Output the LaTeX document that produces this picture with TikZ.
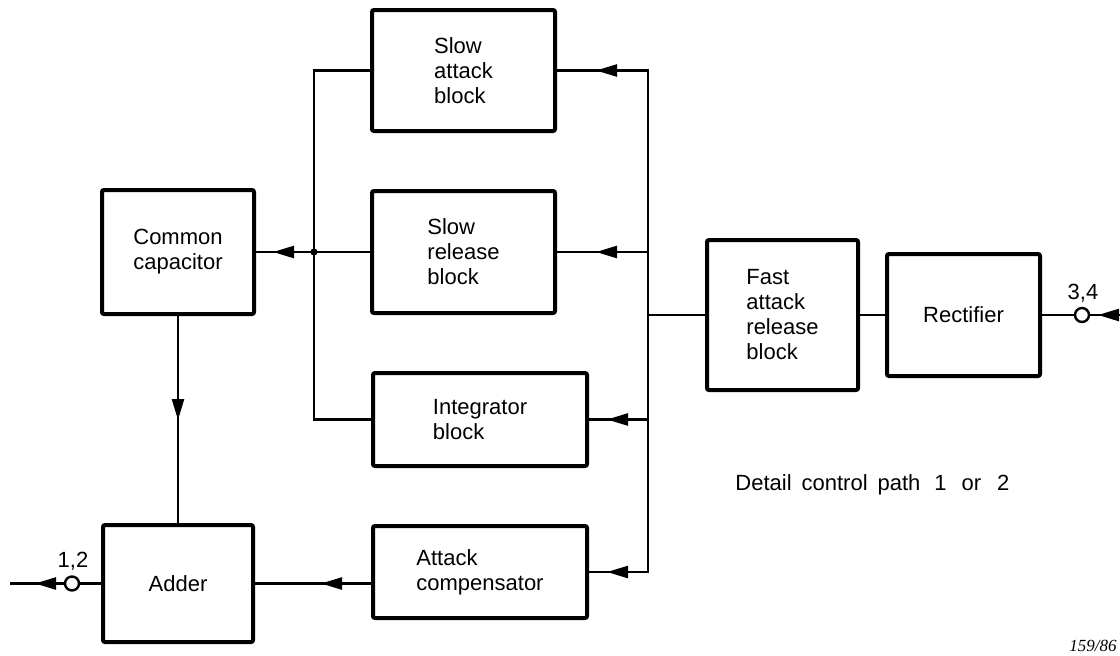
\documentclass[tikz,border=0pt]{standalone}
\usepackage{fontspec}
\setmainfont{Liberation Sans}
\newfontfamily\serifit{Liberation Serif}
\usetikzlibrary{arrows.meta,calc}
\tikzset{
  blk/.style={draw, line width=2pt, rounded corners=1pt, align=left, inner sep=0pt,
    font=\fontsize{11}{12.5}\selectfont},
  wire/.style={line width=1.2pt},
  arr/.style={line width=1.2pt, -{Triangle[length=10.5pt,width=6pt]}},
  term/.style={circle, draw, fill=white, line width=1.2pt, minimum size=7pt, inner sep=0pt},
  lbl/.style={font=\fontsize{11}{12.5}\selectfont, inner sep=0pt},
}
\begin{document}
\begin{tikzpicture}[x=0.5pt, y=-0.5pt]
\useasboundingbox (0,0) rectangle (1120,655);
% blocks
\node[blk, minimum width=91.5pt, minimum height=60.5pt] (sa) at (463.5,70.5) {Slow\\attack\\block};
\node[blk, minimum width=91.5pt, minimum height=61pt] (sr) at (463.5,252) {Slow\\release\\block};
\node[blk, minimum width=107pt, minimum height=46.5pt] (ib) at (480,419.5) {Integrator\\block};
\node[blk, minimum width=107pt, minimum height=46pt] (ac) at (480,572) {Attack\\compensator};
\node[blk, minimum width=76pt, minimum height=62pt, align=center] (cc) at (178,252) {Common\\capacitor};
\node[blk, minimum width=75pt, minimum height=58.5pt] (ad) at (178,583.5) {Adder};
\node[blk, minimum width=75.5pt, minimum height=75pt] (fa) at (782.5,315) {Fast\\attack\\release\\block};
\node[blk, minimum width=76.5pt, minimum height=61pt] (re) at (963.5,315) {Rectifier};
% bus positions
\coordinate (rbx) at (648,0);
\coordinate (lbx) at (314,0);
\coordinate (jn) at (lbx |- sr.west);
% right bus
\draw[wire] (sa.east) -- (rbx |- sa.east) -- (rbx |- ac.east) -- (ac.east);
\draw[wire] (rbx |- sr.east) -- (sr.east);
\draw[wire] (rbx |- ib.east) -- (ib.east);
\draw[arr] (rbx |- sa.east) -- ($(rbx |- sa.east)!26pt!(sa.east)$);
\draw[arr] (rbx |- sr.east) -- ($(rbx |- sr.east)!26pt!(sr.east)$);
\draw[arr] (rbx |- ib.east) -- ($(rbx |- ib.east)!20.5pt!(ib.east)$);
\draw[arr] (rbx |- ac.east) -- ($(rbx |- ac.east)!20.5pt!(ac.east)$);
\draw[wire] (fa.west) -- (rbx |- fa.west);
% left bus
\draw[wire] (sa.west) -- (lbx |- sa.west) -- (lbx |- ib.west) -- (ib.west);
\draw[wire] (sr.west) -- (jn) -- (cc.east);
\draw[arr] (jn) -- ($(jn)!20.5pt!(cc.east)$);
\fill (jn) circle (1.8pt);
% capacitor to adder
\draw[wire] (cc.south) -- (ad.north);
\draw[arr] (cc.south) -- ($(cc.south)!52pt!(ad.north)$);
% compensator to adder
\draw[wire] (ac.west |- ad.east) -- (ad.east);
\draw[arr] (ac.west |- ad.east) -- ($(ac.west |- ad.east)!25pt!(ad.east)$);
% fast attack to rectifier
\draw[wire] (fa.east) -- (re.west);
% terminals
\coordinate (o12) at (10,583.5);
\coordinate (i34) at (1120,315);
\node[term] (t12) at (72,583.5) {};
\node[term] (t34) at (1082,315) {};
\draw[wire] (ad.west) -- (t12);
\draw[wire] (t12) -- (o12);
\draw[arr] (t12.west) -- ($(t12)!18.5pt!(o12)$);
\draw[wire] (re.east) -- (t34);
\draw[wire] (i34) -- (t34);
\draw[arr] (i34) -- ($(i34)!11pt!(t34)$);
\node[lbl, anchor=base] (l12) at (73,567) {1,2};
\node[lbl, anchor=base] (l34) at (1083,299) {3,4};
% captions
\node[lbl, anchor=base west] (cap) at (735,490) {Detail\hspace{5pt}control\hspace{5pt}path\hspace{7pt}1\hspace{7.5pt}or\hspace{8pt}2};
\node[anchor=base east, inner sep=0pt, font=\serifit\itshape\fontsize{8.5}{10}\selectfont] (fig) at (1117,651) {159/86};
\end{tikzpicture}
\end{document}
